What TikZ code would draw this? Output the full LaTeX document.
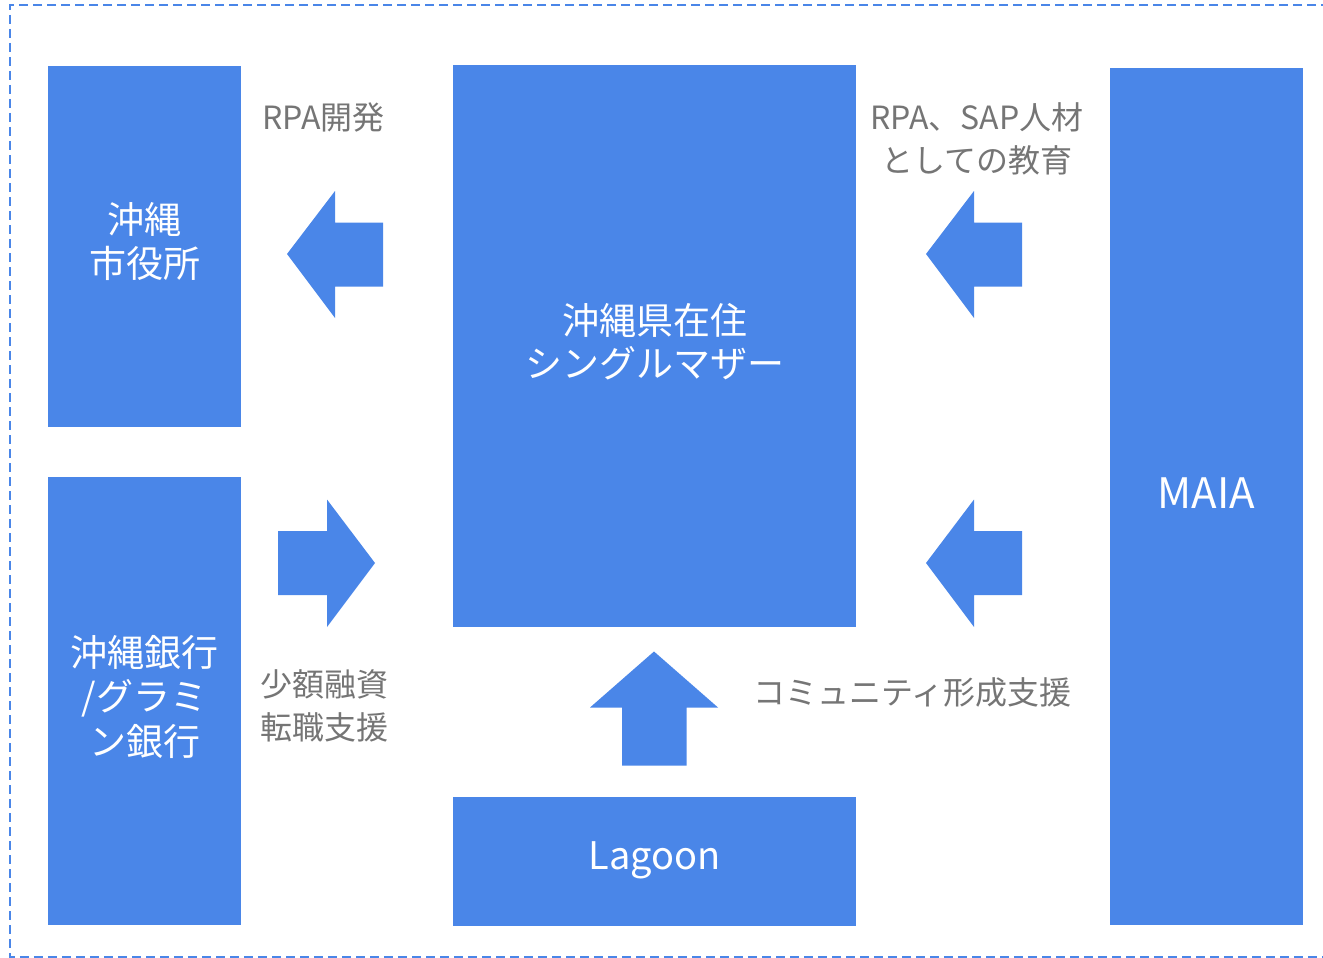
\documentclass[tikz,border=0pt]{standalone}
\usepackage{fontspec}
\setmainfont{Noto Sans CJK JP}
\definecolor{boxblue}{HTML}{4A86E8}
\definecolor{labelgray}{HTML}{757575}
\tikzset{
  x=1pt, y=-1pt,
  bluebox/.style={fill=boxblue, draw=none, inner sep=0pt, text=white, align=center,
    font=\fontsize{37}{43.5}\selectfont},
  lbl/.style={text=labelgray, align=center, inner sep=0pt,
    font=\fontsize{32}{43}\selectfont},
  blockarrow/.style={fill=boxblue, draw=none},
  frame/.style={draw=boxblue, line width=1.5pt, dash pattern=on 9pt off 5pt}
}
\begin{document}
\begin{tikzpicture}
\useasboundingbox (0,0) rectangle (1323,958);
% frame
\coordinate (f1) at (1330,5);
\coordinate (f2) at (10,5);
\coordinate (f3) at (10,957);
\coordinate (f4) at (1330,957);
\draw[frame] (f1) -- (f2) -- (f3) -- (f4);
% boxes
\node[bluebox, minimum width=193pt, minimum height=361pt] (city) at (144.5,246.5) {};
\node[text=white, align=center, font=\fontsize{37}{43.5}\selectfont] (citytxt) at (144.5,241.5) {沖縄\\市役所};
\node[bluebox, minimum width=193pt, minimum height=448pt] (bank) at (144.5,701) {};
\node[text=white, align=center, font=\fontsize{37}{44.5}\selectfont] (banktxt) at (144.5,696.5) {沖縄銀行\\/グラミ\\ン銀行};
\node[bluebox, minimum width=403pt, minimum height=562pt] (mother) at (654.5,346) {};
\node[text=white, align=center, font=\fontsize{37}{43.5}\selectfont] (mothertxt) at (654.5,341.5) {沖縄県在住\\シングルマザー};
\node[bluebox, minimum width=403pt, minimum height=129pt] (lagoon) at (654.5,861.5) {};
\node[text=white, font=\fontsize{38}{43}\selectfont] (lagoontxt) at (654.5,860.5) {Lagoon};
\node[bluebox, minimum width=193pt, minimum height=857pt] (maia) at (1206.5,496.5) {};
\node[text=white, font=\fontsize{42}{43}\selectfont] (maiatxt) at (1206.5,493) {MAIA};
% block arrows
\fill[blockarrow] (287,254) -- (335,191) -- (335,222.5) -- (383,222.5) -- (383,286.5) -- (335,286.5) -- (335,318) -- cycle;
\fill[blockarrow] (375,563) -- (327,499.5) -- (327,531) -- (278,531) -- (278,595) -- (327,595) -- (327,627) -- cycle;
\fill[blockarrow] (926,254) -- (974,191) -- (974,222.5) -- (1022,222.5) -- (1022,286.5) -- (974,286.5) -- (974,318) -- cycle;
\fill[blockarrow] (926,563) -- (974,499.5) -- (974,531) -- (1022,531) -- (1022,595) -- (974,595) -- (974,627) -- cycle;
\fill[blockarrow] (654,651.5) -- (718,707.5) -- (686.5,707.5) -- (686.5,765.5) -- (622,765.5) -- (622,707.5) -- (590,707.5) -- cycle;
% labels
\node[lbl] (l1) at (323.5,117) {RPA開発};
\node[lbl] (l2) at (977,139) {RPA、SAP人材\\としての教育};
\node[lbl] (l3) at (324,706) {少額融資\\転職支援};
\node[lbl] (l4) at (912.5,692) {コミュニティ形成支援};
\end{tikzpicture}
\end{document}
